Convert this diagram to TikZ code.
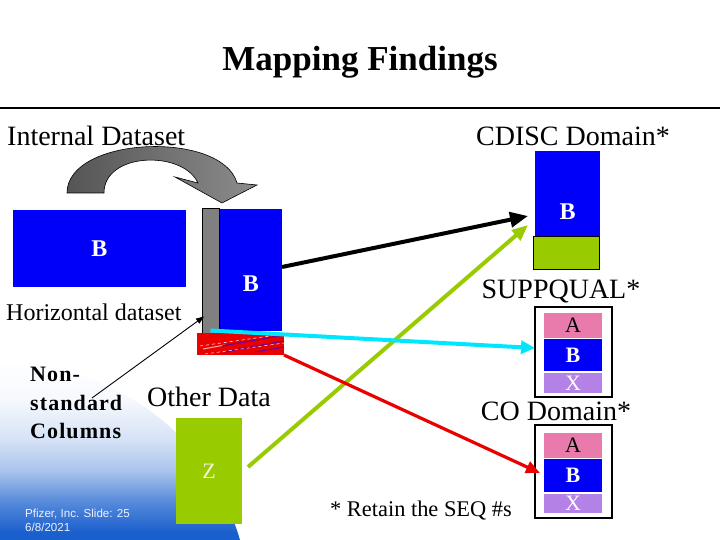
\documentclass[tikz,border=0pt]{standalone}
\usepackage{fontspec}
\setmainfont{Liberation Serif}
\newfontfamily\pfsans{Liberation Sans}
\usetikzlibrary{arrows.meta,calc}
\definecolor{dblue}{RGB}{0,0,250}
\definecolor{lgreen}{RGB}{153,204,0}
\definecolor{pinkc}{RGB}{232,122,172}
\definecolor{purpc}{RGB}{180,130,230}
\definecolor{cyanc}{RGB}{0,230,255}
\definecolor{redc}{RGB}{235,0,0}
\definecolor{bgblue}{RGB}{25,95,205}
\definecolor{garrowdark}{RGB}{85,85,85}
\definecolor{garrowlight}{RGB}{140,140,140}
\pgfdeclareverticalshading{bgshade}{100bp}{color(0bp)=(bgblue); color(27bp)=(bgblue); color(36bp)=(bgblue!72!white); color(44bp)=(bgblue!38!white); color(53bp)=(bgblue!18!white); color(64bp)=(bgblue!4!white); color(75bp)=(white); color(100bp)=(white)}
\begin{document}
\begin{tikzpicture}[x=1pt,y=-1pt,
  box/.style={inner sep=0pt,outer sep=0pt},
  cell/.style={box,minimum width=58pt,font=\fontsize{22}{24}\selectfont},
  frame/.style={box,draw=black,line width=1.5pt,fill=white,minimum width=77pt},
  btxt/.style={inner sep=0pt,text=white,font=\bfseries\fontsize{24}{26}\selectfont},
  bigtxt/.style={inner sep=0pt,font=\fontsize{28}{32}\selectfont},
  conn/.style={line width=4pt}
]
\useasboundingbox (0,0) rectangle (720,540);
% background gradient
\shade[shading=bgshade] (0,360) .. controls (100,365) and (205,420) .. (240,540) -- (0,540) -- cycle;

% title
\node[inner sep=0pt,font=\bfseries\fontsize{35}{38}\selectfont] (title) at (360,62) {Mapping Findings};
\draw[line width=2.5pt] (0,108) coordinate (ruleL) -- (720,108) coordinate (ruleR);

\node[bigtxt,anchor=west] (intds) at (7,136) {Internal Dataset};
\node[bigtxt] (cdisc) at (573,136) {CDISC Domain*};

% curved arrow
\shade[left color=garrowdark,right color=garrowlight,draw=black,line width=0.6pt]
  (67,193) .. controls (67,136) and (222,130) .. (237,183) -- (257,185) -- (222,203)
  -- (175,177) -- (198,183) .. controls (183,150) and (104,152) .. (104,193) -- cycle;

% left boxes
\node[box,fill=dblue,minimum width=173pt,minimum height=77pt] (lb) at (99.5,248.5) {};
\node[btxt] (lbB) at (lb.center) {B};
\node[box,fill=gray,draw=black,line width=0.8pt,minimum width=17pt,minimum height=125pt] (gb) at (210.5,271) {};
\node[box,fill=dblue,minimum width=62pt,minimum height=122pt] (rb) at (251,270) {};
\node[btxt] (rbB) at ($(rb.center)+(0,14)$) {B};
\node[box,fill=redc,minimum width=87pt,minimum height=22pt] (rbx) at (240.5,344) {};
\begin{scope}
  \clip (rbx.south west) rectangle (rbx.north east);
  \draw[white,line width=0.5pt,dashed] (200,346) -- (284,334);
  \draw[white!70!redc,line width=1pt] (203,349) -- (225,345);
  \draw[purple!60!blue,line width=1.2pt] (222,346) -- (284,335);
  \draw[purple!60!blue,line width=1.2pt] (224,352) -- (284,341);
  \draw[white,line width=0.5pt,dashed] (205,354) -- (284,343);
  \draw[purple!60!blue,line width=1.2pt] (255,352) -- (284,347);
\end{scope}

\node[inner sep=0pt,anchor=west,font=\fontsize{24}{28}\selectfont] (horiz) at (6,312) {Horizontal dataset};
\node[inner sep=0pt,anchor=west,align=left,font=\bfseries\fontsize{22}{28.5}\selectfont\addfontfeature{LetterSpace=5}] (nonstd) at (30,403) {Non-\\standard\\Columns};
\node[bigtxt] (other) at (209,397) {Other Data};
\node[box,fill=lgreen,minimum width=66pt,minimum height=106pt,text=white!85!lgreen,font=\fontsize{22}{24}\selectfont] (zb) at (209,471) {Z};

% CDISC domain box
\node[box,fill=dblue,minimum width=65pt,minimum height=85pt] (cdB) at (567.5,193.5) {};
\node[btxt] (cdBt) at ($(cdB.center)+(0,18.5)$) {B};
\node[box,fill=lgreen,draw=black,line width=0.8pt,minimum width=66pt,minimum height=33pt] (cdG) at (566,252.5) {};

% SUPPQUAL
\node[bigtxt] (supp) at (561,291) {SUPPQUAL*};
\node[frame,minimum height=90pt] (sq) at (573.5,352) {};
\node[cell,fill=pinkc,minimum height=25pt] (sqA) at (573,325.5) {A};
\node[cell,fill=dblue,minimum height=32pt,text=white,font=\bfseries\fontsize{22}{24}\selectfont] (sqB) at (573,355) {B};
\node[cell,fill=purpc,minimum height=20pt,text=white] (sqX) at (573,383) {X};

% CO domain
\node[bigtxt] (codom) at (556,411) {CO Domain*};
\node[frame,minimum height=93pt] (co) at (573.5,471.5) {};
\node[cell,fill=pinkc,minimum height=25pt] (coA) at (573,445.5) {A};
\node[cell,fill=dblue,minimum height=33pt,text=white,font=\bfseries\fontsize{22}{24}\selectfont] (coB) at (573,475.5) {B};
\node[cell,fill=purpc,minimum height=19pt,text=white] (coX) at (573,503.5) {X};

\node[inner sep=0pt,font=\fontsize{22.4}{26}\selectfont] (seq) at (421,511) {* Retain the SEQ \#s};

\node[inner sep=0pt,anchor=west,align=left,text=white!92!bgblue,font=\pfsans\fontsize{11.6}{14}\selectfont] (pfz) at (25,520) {Pfizer, Inc. Slide: 25\\6/8/2021};

% connectors
\draw[conn,black,-{Triangle[length=18pt,width=15pt]}] ($(rb.east)+(0,-3)$) -- ($(cdB.west)+(-7,22.5)$);
\draw[conn,lgreen,-{Triangle[length=16pt,width=13pt]}] ($(zb.east)+(6,-4)$) -- ($(cdB.west)+(-7,31.5)$);
\draw[conn,cyanc,-{Triangle[length=14pt,width=13pt]}] ($(gb.south)+(0,-3)$) -- ($(sq.west)+(0,-4)$);
\draw[line width=3.2pt,redc,-{Triangle[length=14pt,width=12pt]}] (rbx.south east) -- ($(co.west)+(5,1.5)$);
\draw[line width=0.9pt,black,-{Triangle[length=8pt,width=6pt]}] ($(nonstd.west)+(62,-5)$) -- ($(gb.south west)+(2,-17)$);
\end{tikzpicture}
\end{document}
